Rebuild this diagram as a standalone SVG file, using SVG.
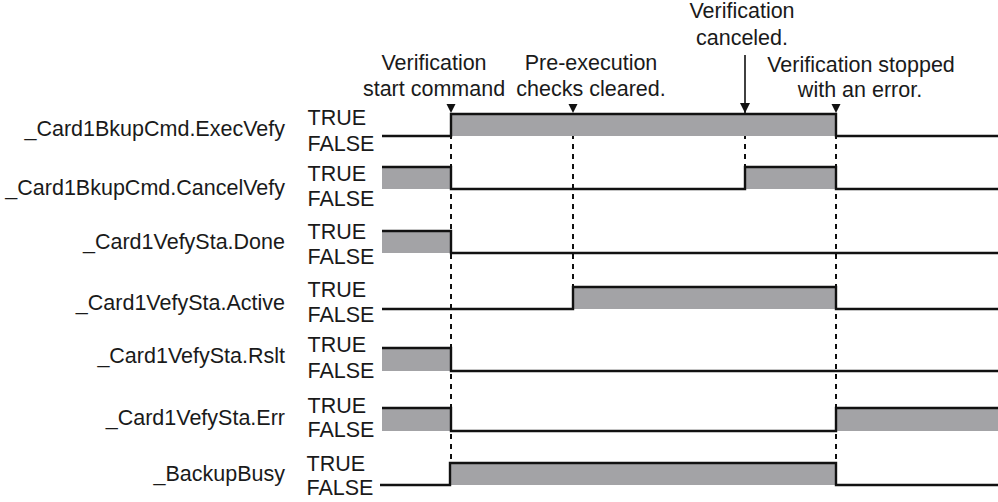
<svg xmlns="http://www.w3.org/2000/svg" width="998" height="502" viewBox="0 0 998 502">
<defs>
<style>
text{font-family:"Liberation Sans",Arial,sans-serif;font-size:21.5px;fill:#1a1a1a}
.lbl{text-anchor:end}
.mid{text-anchor:middle}
.wave{fill:none;stroke:#111;stroke-width:2.4;stroke-linejoin:miter}
.hi{fill:#a3a3a6}
.dash{stroke:#111;stroke-width:2;stroke-dasharray:5,5;fill:none}
.tri{fill:#111}
</style>
<marker id="ah" viewBox="0 0 10 10" refX="10" refY="5" markerWidth="10" markerHeight="10" markerUnits="userSpaceOnUse" orient="auto">
<path d="M0,0 L10,5 L0,10 Z" fill="#111"/>
</marker>
</defs>
<rect width="998" height="502" fill="#fff"/>

<g id="annotations">
<text class="mid" x="434" y="70">Verification</text>
<text class="mid" x="434" y="96">start command</text>
<text class="mid" x="591" y="70">Pre-execution</text>
<text class="mid" x="591" y="96">checks cleared.</text>
<text class="mid" x="742" y="18">Verification</text>
<text class="mid" x="742" y="45">canceled.</text>
<text class="mid" x="861" y="72">Verification stopped</text>
<text class="mid" x="860" y="97">with an error.</text>
</g>

<g id="connectors">
<line class="dash" x1="451" y1="114" x2="451" y2="463"/>
<line class="dash" x1="573" y1="114" x2="573" y2="287"/>
<line class="dash" x1="745" y1="114" x2="745" y2="167"/>
<line class="dash" x1="836" y1="114" x2="836" y2="463"/>
<polygon class="tri" points="446.5,104 455.5,104 451,113"/>
<polygon class="tri" points="568.5,104 577.5,104 573,113"/>
<polygon class="tri" points="831.5,104 840.5,104 836,113"/>
<line x1="745" y1="55" x2="745" y2="113" stroke="#111" stroke-width="1.6" marker-end="url(#ah)"/>
</g>

<g id="sig-execvefy">
<text class="lbl" x="285" y="135.5">_Card1BkupCmd.ExecVefy</text>
<text x="307.5" y="125">TRUE</text>
<text x="307.5" y="150.5">FALSE</text>
<rect class="hi" x="451" y="114" width="385" height="22"/>
<polyline class="wave" points="382,136 451,136 451,114 836,114 836,136 998,136"/>
</g>

<g id="sig-cancelvefy">
<text class="lbl" x="285" y="195">_Card1BkupCmd.CancelVefy</text>
<text x="307.5" y="181">TRUE</text>
<text x="307.5" y="206">FALSE</text>
<rect class="hi" x="382" y="167" width="69" height="22"/>
<rect class="hi" x="745" y="167" width="91" height="22"/>
<polyline class="wave" points="382,167 451,167 451,189 745,189 745,167 836,167 836,189 998,189"/>
</g>

<g id="sig-done">
<text class="lbl" x="285" y="249">_Card1VefySta.Done</text>
<text x="307.5" y="239">TRUE</text>
<text x="307.5" y="264">FALSE</text>
<rect class="hi" x="382" y="231" width="69" height="22"/>
<polyline class="wave" points="382,231 451,231 451,253 998,253"/>
</g>

<g id="sig-active">
<text class="lbl" x="285" y="310">_Card1VefySta.Active</text>
<text x="307.5" y="297">TRUE</text>
<text x="307.5" y="322">FALSE</text>
<rect class="hi" x="573" y="287" width="263" height="22"/>
<polyline class="wave" points="382,309 573,309 573,287 836,287 836,309 998,309"/>
</g>

<g id="sig-rslt">
<text class="lbl" x="285" y="363">_Card1VefySta.Rslt</text>
<text x="307.5" y="352">TRUE</text>
<text x="307.5" y="378">FALSE</text>
<rect class="hi" x="382" y="348" width="69" height="23"/>
<polyline class="wave" points="382,348 451,348 451,371 998,371"/>
</g>

<g id="sig-err">
<text class="lbl" x="285" y="425">_Card1VefySta.Err</text>
<text x="307.5" y="413">TRUE</text>
<text x="307.5" y="437">FALSE</text>
<rect class="hi" x="382" y="408" width="69" height="23"/>
<rect class="hi" x="836" y="408" width="162" height="23"/>
<polyline class="wave" points="382,408 451,408 451,431 836,431 836,408 998,408"/>
</g>

<g id="sig-backupbusy">
<text class="lbl" x="285" y="481">_BackupBusy</text>
<text x="306.5" y="471">TRUE</text>
<text x="306.5" y="495">FALSE</text>
<rect class="hi" x="450" y="463" width="386" height="22"/>
<polyline class="wave" points="380,485 450,485 450,463 836,463 836,485 998,485"/>
</g>
</svg>
